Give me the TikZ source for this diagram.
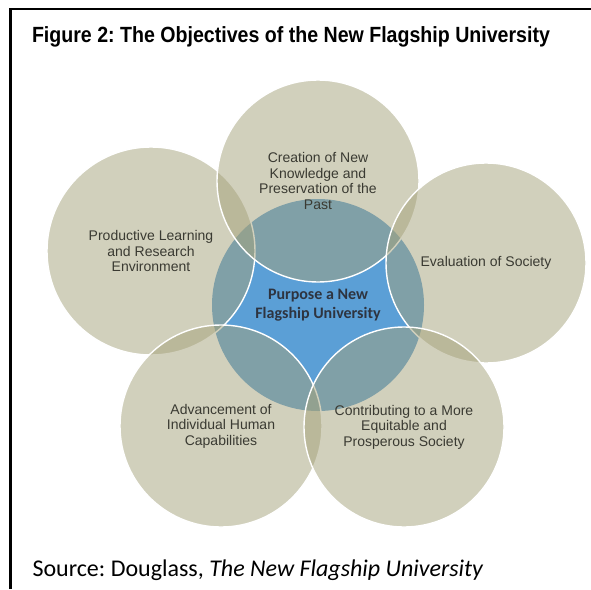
\documentclass[tikz,border=0pt]{standalone}
\usepackage{fontspec}
\setmainfont{Liberation Sans}
\newfontfamily\calibri{Carlito}
\newfontfamily\titlefont{Liberation Sans}[FakeStretch=0.89]
\definecolor{tanc}{HTML}{A5A27A}
\definecolor{bluec}{HTML}{5B9FD6}
\definecolor{txt}{HTML}{3A3A32}
\definecolor{hubtxt}{HTML}{2E3440}
\frenchspacing
\tikzset{
  petal/.style={circle, fill=tanc, fill opacity=0.5, text opacity=1, draw=white,
    line width=1.4pt, minimum size=#1, inner sep=0pt, align=center, text=txt,
    font=\fontsize{14}{15.5}\selectfont},
  hub/.style={circle, fill=bluec, minimum size=212pt, inner sep=0pt, align=center,
    text=hubtxt, font=\calibri\bfseries\fontsize{16}{19}\selectfont},
  frame/.style={line width=2.5pt, black}
}
\begin{document}
\begin{tikzpicture}[x=1pt,y=-1pt]
\useasboundingbox (0,0) rectangle (591,589);
\fill[white] (0,0) rectangle (591,589);
\draw[frame] (10.5,589) -- (10.5,9) -- (591,9);
\node[anchor=base west, font=\titlefont\bfseries\fontsize{22}{24}\selectfont] (title) at (28.5,42.5)
  {Figure 2: The Objectives of the New Flagship University};
\node[hub] (hub) at (318,305) {Purpose a New\\Flagship University};
\node[petal=208pt] (left) at (151,251) {Productive Learning\\and Research\\Environment};
\node[petal=202pt] (top) at (318,181) {Creation of New\\Knowledge and\\Preservation of the\\Past};
\node[petal=200pt] (right) at (486,263) {Evaluation of Society};
\node[petal=202pt] (bl) at (221,426) {Advancement of\\Individual Human\\Capabilities};
\node[petal=200pt] (br) at (404,427) {Contributing to a More\\Equitable and\\Prosperous Society};
\node[anchor=base west, font=\calibri\fontsize{24}{26}\selectfont] (source) at (29,576)
  {Source: Douglass, \textit{The New Flagship University}};
\end{tikzpicture}
\end{document}
